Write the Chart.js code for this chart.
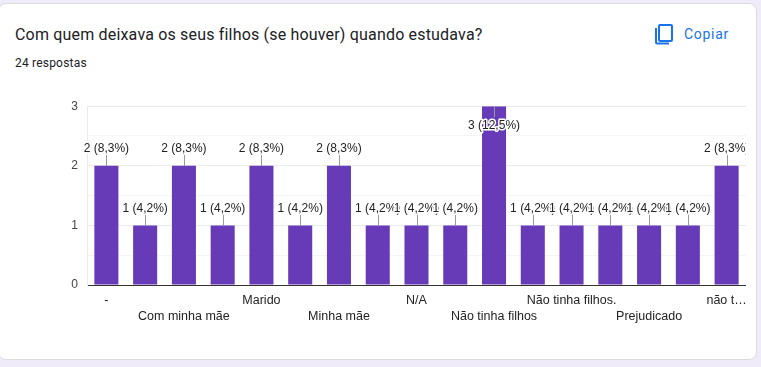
<!DOCTYPE html>
<html lang="pt">
<head>
<meta charset="utf-8">
<title>Com quem deixava os seus filhos</title>
<script src="https://cdn.jsdelivr.net/npm/chart.js@4"></script>
<style>
  html, body { margin: 0; padding: 0; width: 761px; height: 367px; overflow: hidden; background: #f0ebf8; font-family: Roboto, Arial, sans-serif; }
  .card { position: absolute; left: -2px; top: 3px; width: 759px; height: 357px; box-sizing: border-box; background: #fff; border: 1px solid #dadce0; border-radius: 8px; }
  .title { position: absolute; left: 15px; top: 25px; font-size: 16px; line-height: 19px; letter-spacing: .18px; color: #202124; white-space: nowrap; }
  .count { position: absolute; left: 15px; top: 56px; font-size: 12px; line-height: 14px; letter-spacing: .2px; color: #202124; white-space: nowrap; }
  .copy { position: absolute; left: 684px; top: 26px; font-size: 14px; line-height: 16px; letter-spacing: .7px; color: #1a73e8; }
  .icon { position: absolute; left: 654px; top: 23px; }
  canvas { position: absolute; left: 0; top: 90px; }
</style>
</head>
<body>
<div class="card"></div>
<div class="title">Com quem deixava os seus filhos (se houver) quando estudava?</div>
<div class="count">24 respostas</div>
<svg class="icon" width="20" height="22" viewBox="0 0 20 22" fill="none" stroke="#1a73e8" stroke-width="2">
  <rect x="5" y="2" width="13" height="16" rx="1"></rect>
  <path d="M2 5v14a1.500 1.500 0 0 0 1.500 1.500H15"></path>
</svg>
<div class="copy">Copiar</div>
<canvas id="chart" width="761" height="246"></canvas>
<script>
const categories = ['-', '', 'Com minha mãe', '', 'Marido', '', 'Minha mãe', '', 'N/A', '', 'Não tinha filhos', '', 'Não tinha filhos.', '', 'Prejudicado', '', 'não t…'];
const values = [2, 1, 2, 1, 2, 1, 2, 1, 1, 1, 3, 1, 1, 1, 1, 1, 2];
const valueLabels = ['2 (8,3%)', '1 (4,2%)', '2 (8,3%)', '1 (4,2%)', '2 (8,3%)', '1 (4,2%)', '2 (8,3%)', '1 (4,2%)', '1 (4,2%)', '1 (4,2%)', '3 (12,5%)', '1 (4,2%)', '1 (4,2%)', '1 (4,2%)', '1 (4,2%)', '1 (4,2%)', '2 (8,3%)'];
const yTicks = [0, 1, 2, 3];
const chartFont = '"Liberation Sans", Arial, sans-serif';

// leader lines and the value text, later labels paint over earlier ones
const barLabels = {
    id: 'barLabels',
    afterDatasetsDraw(chart) {
        const c = chart.ctx;
        const area = chart.chartArea;
        const bars = chart.getDatasetMeta(0).data;
        c.save();
        c.beginPath();
        c.rect(0, 0, area.right, chart.height);
        c.clip();
        c.font = '12px ' + chartFont;
        c.textAlign = 'center';
        c.textBaseline = 'middle';
        bars.forEach((bar, i) => {
            const atTop = bar.y <= area.top + 1;
            const lineEnd = atTop ? bar.y + 11 : bar.y - 11;
            const textY = atTop ? bar.y + 19 : bar.y - 17;
            c.strokeStyle = '#999';
            c.lineWidth = 1;
            c.beginPath();
            c.moveTo(Math.round(bar.x) + 0.5, bar.y);
            c.lineTo(Math.round(bar.x) + 0.5, lineEnd);
            c.stroke();
            c.strokeStyle = '#fff';
            c.lineWidth = 3;
            c.lineJoin = 'round';
            c.strokeText(valueLabels[i], bar.x, textY);
            c.fillStyle = '#222';
            c.fillText(valueLabels[i], bar.x, textY);
        });
        c.restore();
    }
};

new Chart(document.getElementById('chart'), {
    type: 'bar',
    data: {
        labels: categories,
        datasets: [{
            data: values,
            backgroundColor: '#673ab7',
            barPercentage: 0.62,
            categoryPercentage: 1
        }]
    },
    options: {
        responsive: false,
        animation: false,
        layout: { padding: { top: 3, right: 15 } },
        plugins: { legend: { display: false }, tooltip: { enabled: false } },
        scales: {
            x: {
                afterFit: scale => { scale.height = 51; },
                border: { display: false },
                grid: {
                    drawTicks: false,
                    color: ctx => ctx.index === categories.length ? '#f3f3f3' : 'transparent'
                },
                ticks: {
                    autoSkip: false,
                    maxRotation: 0,
                    padding: 7,
                    color: '#222',
                    font: { family: chartFont, size: 12.5, lineHeight: 1.3 },
                    callback(value, index) {
                        // long axis labels alternate between two rows
                        return index % 4 === 2 ? ['', categories[index]] : categories[index];
                    }
                }
            },
            y: {
                min: yTicks[0],
                max: yTicks[yTicks.length - 1],
                afterFit: scale => { scale.width = 87; },
                border: { color: '#ebebeb', width: 1 },
                grid: {
                    drawTicks: false,
                    color: ctx => ctx.tick.value === 0 ? '#333' : (Number.isInteger(ctx.tick.value) ? '#ebebeb' : '#f5f5f5')
                },
                ticks: {
                    stepSize: 0.5,
                    padding: 9,
                    color: '#444',
                    font: { family: chartFont, size: 12 },
                    callback: value => yTicks.includes(value) ? String(value) : ''
                }
            }
        }
    },
    plugins: [barLabels]
});
</script>
</body>
</html>
